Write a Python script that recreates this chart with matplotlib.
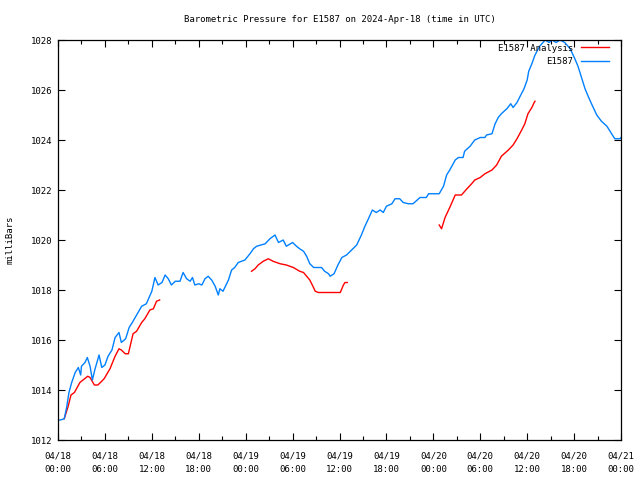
import numpy as np
import matplotlib
matplotlib.use("Agg")
import matplotlib.pyplot as plt
from matplotlib.ticker import MultipleLocator

# hours since 2024-04-18 00:00 UTC
obs_hours = [
    0.0, 0.3, 0.8, 1.1, 1.4, 1.75, 2.2, 2.6, 2.9, 3.0, 3.45, 3.75, 4.1, 4.4, 4.7,
    5.25, 5.6, 6.0, 6.4, 6.9, 7.3, 7.8, 8.1, 8.65, 9.1, 9.5, 10.05, 10.7, 11.3,
    12.0, 12.4, 12.8, 13.3, 13.7, 14.1, 14.5, 15.0, 15.6, 16.0, 16.45, 16.9, 17.2,
    17.5, 18.0, 18.4, 18.8, 19.2, 19.65, 20.1, 20.5, 20.7, 21.1, 21.8, 22.2, 22.6,
    23.05, 23.9, 24.55, 25.0, 25.4, 26.5, 27.1, 27.75, 28.2, 28.8, 29.2, 30.0,
    30.5, 30.9, 31.4, 31.8, 32.2, 32.7, 33.7, 34.1, 34.6, 34.8, 35.3, 35.8, 36.3,
    36.9, 37.55, 38.2, 38.8, 39.25, 39.7, 40.2, 40.7, 41.2, 41.6, 42.0, 42.7,
    43.1, 43.7, 44.15, 44.8, 45.4, 46.3, 47.1, 47.4, 47.8, 48.75, 49.3, 49.7,
    50.1, 50.8, 51.2, 51.8, 52.0, 52.7, 53.3, 54.0, 54.6, 54.8, 55.5, 55.9, 56.3,
    56.7, 57.4, 57.9, 58.2, 58.7, 59.1, 59.6, 60.0, 60.2, 60.6, 61.0, 61.6, 62.3,
    62.8, 63.2, 63.7, 64.2, 64.8, 65.5, 66.1, 66.5, 67.0, 67.4, 67.8, 68.3, 68.9,
    69.5, 70.2, 70.8, 71.2, 71.9, 72.0,
]
obs_mb = [
    1012.8, 1012.8, 1012.85, 1013.3, 1013.9, 1014.3, 1014.7, 1014.9, 1014.6,
    1014.95, 1015.1, 1015.3, 1014.95, 1014.4, 1014.8, 1015.4, 1014.9, 1015.0,
    1015.35, 1015.6, 1016.1, 1016.3, 1015.9, 1016.05, 1016.5, 1016.7, 1017.0,
    1017.35, 1017.45, 1017.95, 1018.5, 1018.2, 1018.3, 1018.6, 1018.45, 1018.2,
    1018.35, 1018.35, 1018.7, 1018.45, 1018.35, 1018.5, 1018.2, 1018.25, 1018.2,
    1018.45, 1018.55, 1018.4, 1018.15, 1017.8, 1018.05, 1017.95, 1018.4, 1018.8,
    1018.9, 1019.1, 1019.2, 1019.45, 1019.65, 1019.75, 1019.85, 1020.05, 1020.2,
    1019.9, 1020.0, 1019.75, 1019.9, 1019.75, 1019.65, 1019.55, 1019.35, 1019.05,
    1018.9, 1018.9, 1018.75, 1018.65, 1018.55, 1018.65, 1019.0, 1019.3, 1019.4,
    1019.6, 1019.8, 1020.2, 1020.55, 1020.85, 1021.2, 1021.1, 1021.2, 1021.1,
    1021.35, 1021.45, 1021.65, 1021.65, 1021.5, 1021.45, 1021.45, 1021.7, 1021.7,
    1021.85, 1021.85, 1021.85, 1022.15, 1022.6, 1022.8, 1023.2, 1023.3, 1023.3,
    1023.55, 1023.75, 1024.0, 1024.1, 1024.1, 1024.2, 1024.25, 1024.65, 1024.9,
    1025.05, 1025.25, 1025.45, 1025.3, 1025.5, 1025.75, 1026.05, 1026.4, 1026.75,
    1027.05, 1027.4, 1027.75, 1028.0, 1027.9, 1028.0, 1027.9, 1028.0, 1027.9,
    1027.65, 1027.25, 1026.95, 1026.45, 1026.05, 1025.75, 1025.4, 1025.0,
    1024.75, 1024.55, 1024.25, 1024.05, 1024.05, 1024.1,
]

# analysis runs (NaN separates the three runs)
ana_hours = [
    0.8, 1.3, 1.66, 2.1, 2.8, 3.8, 4.1, 4.65, 5.1, 5.9, 6.65, 7.3, 7.8, 8.1, 8.6,
    9.0, 9.6, 10.05, 10.7, 11.1, 11.75, 12.2, 12.6, 13.0, np.nan,
    24.75, 25.2, 25.6, 26.25, 26.9, 27.5, 28.4, 29.2, 30.1, 30.9, 31.4, 31.8,
    32.2, 32.6, 32.9, 33.3, 36.1, 36.5, 36.7, 37.0, np.nan,
    48.75, 49.05, 49.5, 50.1, 50.8, 51.6, 52.3, 52.9, 53.3, 54.0, 54.6, 55.5,
    56.1, 56.7, 57.6, 58.2, 58.7, 59.3, 59.7, 60.1, 60.6, 60.9, 61.0,
]
ana_mb = [
    1012.85, 1013.35, 1013.8, 1013.9, 1014.3, 1014.55, 1014.5, 1014.2, 1014.2,
    1014.45, 1014.85, 1015.35, 1015.65, 1015.6, 1015.45, 1015.45, 1016.25,
    1016.35, 1016.7, 1016.85, 1017.2, 1017.25, 1017.55, 1017.6, np.nan,
    1018.75, 1018.85, 1019.0, 1019.15, 1019.25, 1019.15, 1019.05, 1019.0,
    1018.9, 1018.75, 1018.7, 1018.55, 1018.4, 1018.15, 1017.95, 1017.9, 1017.9,
    1018.2, 1018.3, 1018.3, np.nan,
    1020.6, 1020.45, 1020.9, 1021.3, 1021.8, 1021.8, 1022.05, 1022.25, 1022.4,
    1022.5, 1022.65, 1022.8, 1023.0, 1023.35, 1023.6, 1023.8, 1024.05, 1024.4,
    1024.65, 1025.05, 1025.3, 1025.5, 1025.55,
]

tick_hours = [0, 6, 12, 18, 24, 30, 36, 42, 48, 54, 60, 66, 72]
tick_labels = [
    "04/18\n00:00", "04/18\n06:00", "04/18\n12:00", "04/18\n18:00",
    "04/19\n00:00", "04/19\n06:00", "04/19\n12:00", "04/19\n18:00",
    "04/20\n00:00", "04/20\n06:00", "04/20\n12:00", "04/20\n18:00",
    "04/21\n00:00",
]

plt.rcParams["font.family"] = ["DejaVu Sans Mono"]
plt.rcParams["font.size"] = 6.5

fig = plt.figure(figsize=(6.4, 4.8), dpi=100)
ax = fig.add_axes([58 / 640, 40 / 480, 563 / 640, 400 / 480])

ax.plot(ana_hours, ana_mb, color="#ff0000", lw=1.0, label="E1587 Analysis")
ax.plot(obs_hours, obs_mb, color="#0080ff", lw=1.0, label="E1587")

ax.set_xlim(0, 72)
ax.set_ylim(1012, 1028)
ax.set_xticks(tick_hours)
ax.set_xticklabels(tick_labels, linespacing=1.7)
ax.xaxis.set_minor_locator(MultipleLocator(3))
ax.yaxis.set_major_locator(MultipleLocator(2))
ax.tick_params(which="both", direction="in", top=True, right=True, width=0.8)
ax.tick_params(which="major", length=5, pad=4)
ax.tick_params(axis="x", which="major", pad=8)
ax.tick_params(which="minor", length=3)
for s in ax.spines.values():
    s.set_linewidth(0.9)

ax.set_ylabel("milliBars", labelpad=12)
fig.suptitle("Barometric Pressure for E1587 on 2024-Apr-18 (time in UTC)",
             x=339.5 / 640, y=1 - 20 / 480, va="center", fontsize=6.5)

ax.legend(loc="upper right", bbox_to_anchor=(1 - 8 / 563, 1), frameon=False,
          markerfirst=False, handlelength=3.1, handletextpad=0.9,
          borderaxespad=0.0, labelspacing=0.5, fontsize=6.5)

fig.savefig("out.png", dpi=100)
